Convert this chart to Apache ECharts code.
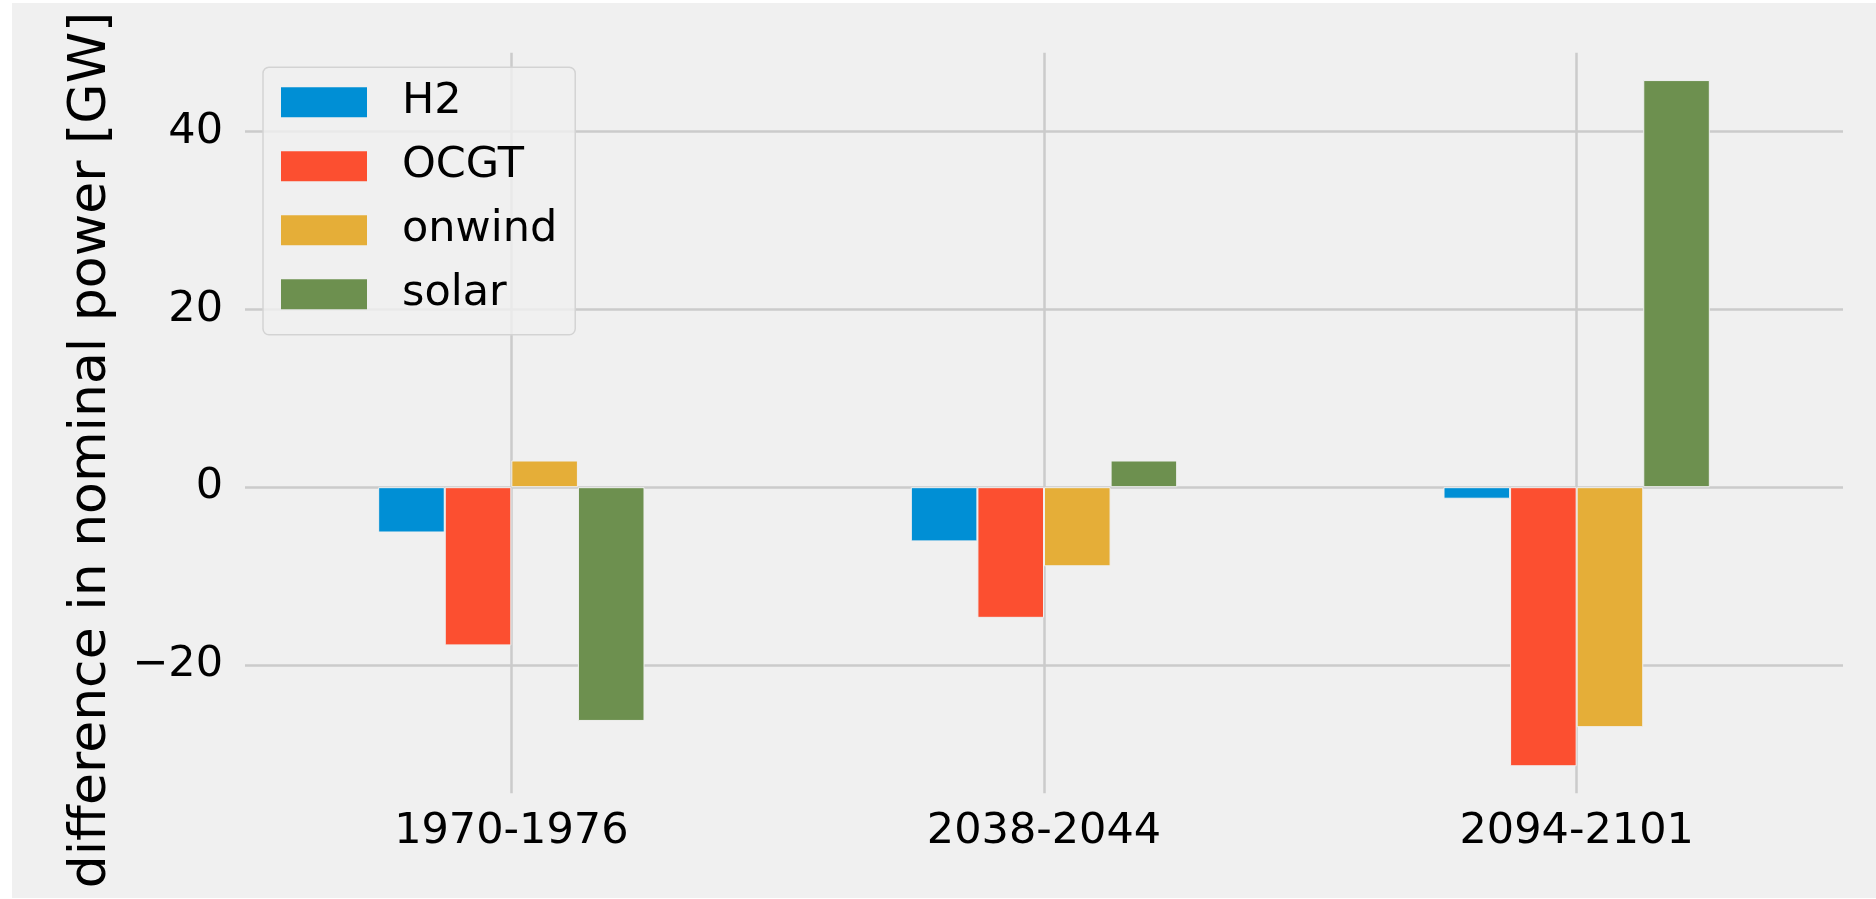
<!DOCTYPE html>
<html>
<head>
    <meta charset="UTF-8">
    <title>difference in nominal power</title>
    <script src="https://cdn.jsdelivr.net/npm/echarts@6/dist/echarts.min.js"></script>
    <style>
        html, body {margin: 0; padding: 0; background: #ffffff;}
        #chart {position: absolute; left: 12px; top: 3px; width: 1864px; height: 895px; background: #f0f0f0;}
    </style>
</head>
<body>
    <div id="chart"></div>

    <script>
        // 数据
        const periods = ['1970-1976', '2038-2044', '2094-2101'];
        const h2 = [-5.1, -6.1, -1.3];
        const ocgt = [-17.8, -14.7, -31.4];
        const onwind = [3.0, -8.9, -27.0];
        const solar = [-26.3, 3.0, 45.8];
        const yTicks = [-20, 0, 20, 40];

        const colors = ['#008fd5', '#fc4f30', '#e5ae38', '#6d904f'];
        const font = 'DejaVu Sans';
        const gridColor = '#cbcbcb';

        const bar = (name, data, color) => ({
            name: name,
            type: 'bar',
            data: data,
            barGap: '0%',
            barCategoryGap: '50%',
            itemStyle: { color: color, borderColor: '#f0f0f0', borderWidth: 1 }
        });

        const series = [
            bar('H2', h2, colors[0]),
            bar('OCGT', ocgt, colors[1]),
            bar('onwind', onwind, colors[2]),
            bar('solar', solar, colors[3]),
            // 竖向网格线: 空折线系列, 只用来挂 markLine (类别中心)
            {
                type: 'line',
                data: [],
                silent: true,
                markLine: {
                    silent: true,
                    z: 1,
                    symbol: 'none',
                    label: { show: false },
                    lineStyle: { color: gridColor, width: 2.5, type: 'solid' },
                    data: periods.map(p => ({ xAxis: p }))
                }
            }
        ];

        const chart = echarts.init(document.getElementById('chart'));
        chart.setOption({
            animation: false,
            grid: { left: 233, right: 33, top: 49.7, bottom: 104.7, containLabel: false },
            legend: {
                orient: 'vertical',
                left: 251,
                top: 64.3,
                icon: 'rect',
                itemWidth: 86,
                itemHeight: 30,
                itemGap: 21,
                itemStyle: { borderWidth: 0 },
                padding: [13.5, 18, 19, 18],
                backgroundColor: 'rgba(240,240,240,0.8)',
                borderColor: '#d3d3d3',
                borderWidth: 1.5,
                borderRadius: 6,
                textStyle: { fontFamily: font, fontSize: 43, lineHeight: 43, color: '#000', padding: [0, 0, 0, 30] },
                data: ['H2', 'OCGT', 'onwind', 'solar']
            },
            xAxis: {
                type: 'category',
                data: periods,
                axisLine: { show: false },
                axisTick: { show: false },
                splitLine: { show: false },
                axisLabel: { fontFamily: font, fontSize: 43, color: '#000', margin: 17 }
            },
            yAxis: {
                type: 'value',
                min: -34.44,
                max: 48.88,
                axisLine: { show: false },
                axisTick: { show: false },
                splitLine: { show: true, showMinLine: false, showMaxLine: false, lineStyle: { color: gridColor, width: 2.5 } },
                axisLabel: {
                    fontFamily: font, fontSize: 43, color: '#000', margin: 22,
                    showMinLabel: false, showMaxLabel: false,
                    formatter: v => yTicks.includes(v) ? (v < 0 ? '\u2212' + Math.abs(v) : String(v)) : ''
                }
            },
            graphic: [{
                type: 'text',
                x: 79,
                y: 447,
                rotation: Math.PI / 2,
                style: {
                    text: 'difference in nominal power [GW]',
                    fontFamily: font,
                    fontSize: 52,
                    fill: '#000',
                    align: 'center',
                    verticalAlign: 'middle'
                }
            }],
            series: series
        });
    </script>
</body>
</html>
